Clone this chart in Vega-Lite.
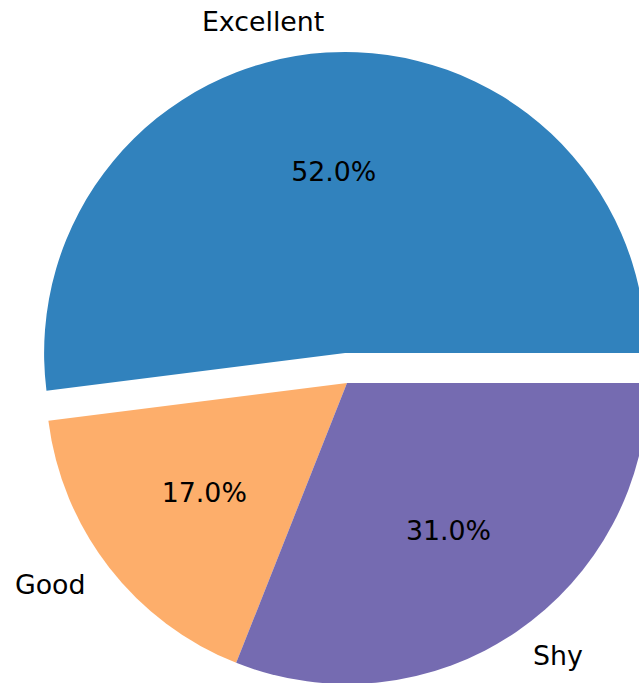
{
  "$schema": "https://vega.github.io/schema/vega-lite/v6.json",
  "autosize": {"type": "none"},
  "width": 584,
  "height": 600,
  "padding": {"left": 55, "top": 83, "right": 0, "bottom": 0},
  "background": "white",
  "config": {"view": {"stroke": null}, "text": {"font": "DejaVu Sans"}},
  "data": {"values": [
    {"label": "Excellent", "value": 52, "pct": "52.0%"},
    {"label": "Good", "value": 17, "pct": "17.0%"},
    {"label": "Shy", "value": 31, "pct": "31.0%"}
  ]},
  "encoding": {
    "theta": {"field": "value", "type": "quantitative", "stack": true, "scale": {"range": [1.5707963, -4.712389]}},
    "order": {"field": "label", "type": "nominal"}
  },
  "layer": [
    {
      "mark": {"type": "arc", "outerRadius": 301,
        "xOffset": {"expr": "datum.label === 'Excellent' ? -1.9 : 0"},
        "yOffset": {"expr": "datum.label === 'Excellent' ? -30 : 0"}},
      "encoding": {
        "color": {"field": "label", "type": "nominal", "legend": null,
          "scale": {"domain": ["Excellent", "Good", "Shy"], "range": ["#3182bd", "#fdae6b", "#756bb1"]}}
      }
    },
    {
      "mark": {"type": "text", "radius": 180.6, "fontSize": 26.8, "color": "black", "baseline": "middle", "align": "center",
        "xOffset": {"expr": "datum.label === 'Excellent' ? -1.9 : 0"},
        "yOffset": {"expr": "datum.label === 'Excellent' ? -30 : 0"}},
      "encoding": {"text": {"field": "pct"}}
    },
    {
      "mark": {"type": "text", "radius": 331, "fontSize": 26.8, "color": "black", "baseline": "middle",
        "align": {"expr": "datum.label === 'Shy' ? 'left' : 'right'"},
        "xOffset": {"expr": "datum.label === 'Excellent' ? -1.9 : 0"},
        "yOffset": {"expr": "datum.label === 'Excellent' ? -30 : 0"}},
      "encoding": {"text": {"field": "label"}}
    }
  ]
}
